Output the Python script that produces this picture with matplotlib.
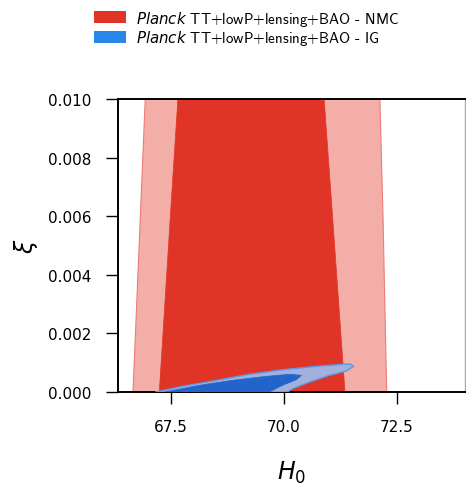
import numpy as np
import matplotlib
matplotlib.use('Agg')
import matplotlib.pyplot as plt
from matplotlib.patches import Patch

plt.rcParams['font.family'] = ['DejaVu Sans']
plt.rcParams['mathtext.fontset'] = 'dejavusans'

# --- datos ---
# NMC: bandas 68% / 95% (bordes izquierdo y derecho en funcion de xi)
xi_banda = [0.0, 0.0059, 0.0100, 0.0110]
nmc95_izq = [66.66, 66.82, 66.93, 66.95]
nmc95_der = [72.26, 72.18, 72.11, 72.09]
nmc68_izq = [67.24, 67.48, 67.65, 67.68]
nmc68_der = [71.34, 71.07, 70.88, 70.85]

# IG: contornos (poligonos) 95% y 68%
ig95_h0 = [67.17, 67.77, 68.52, 69.24, 69.97, 70.72, 71.29, 71.47, 71.54,
           71.38, 71.01, 70.57, 70.19, 70.08]
ig95_xi = [0.0, 0.000195, 0.000399, 0.000604, 0.000761, 0.000877, 0.000945, 0.000956, 0.000877,
           0.000717, 0.000570, 0.000341, 0.000113, 0.0]
ig68_h0 = [67.37, 68.14, 68.87, 69.62, 70.13, 70.39, 70.28, 69.97, 69.68]
ig68_xi = [0.0, 0.000229, 0.000399, 0.000536, 0.000604, 0.000570, 0.000420, 0.000229, 0.0]

ticks_x = [67.5, 70.0, 72.5]
ticks_y = [0.000, 0.002, 0.004, 0.006, 0.008, 0.010]

rojo = '#e03526'
rojo_claro = '#f3aea8'
borde_rojo = '#ec7d74'
azul = '#2264cc'
azul_claro = '#a2b0dc'
borde_azul = '#5f98e8'

fig = plt.figure(figsize=(4.66, 4.89), dpi=100)
ax = fig.add_axes([0.2532, 0.1963, 0.7447, 0.5992])

# bandas NMC
ax.fill_betweenx(xi_banda, nmc95_izq, nmc95_der, facecolor=rojo_claro,
                 edgecolor=borde_rojo, linewidth=0.8, zorder=1)
ax.fill_betweenx(xi_banda, nmc68_izq, nmc68_der, facecolor=rojo,
                 edgecolor=rojo, linewidth=0.5, zorder=2)

# contornos IG
ax.fill(ig95_h0, ig95_xi, facecolor=azul_claro, edgecolor=borde_azul, linewidth=1.0,
        joinstyle='round', zorder=3)
ax.fill(ig68_h0, ig68_xi, facecolor=azul, edgecolor=azul, linewidth=0.5,
        joinstyle='round', zorder=4)

ax.set_xlim(66.34, 74.0)
ax.set_ylim(0.0, 0.010)
ax.set_xticks(ticks_x)
ax.set_xticklabels([f'{t:.1f}' for t in ticks_x])
ax.set_yticks(ticks_y)
ax.set_yticklabels([f'{t:.3f}' for t in ticks_y])

for lado in ['left', 'top', 'bottom']:
    ax.spines[lado].set_linewidth(1.4)
    ax.spines[lado].set_color('black')
ax.spines['right'].set_color('#aaaaaa')
ax.spines['right'].set_linewidth(1.0)
ax.tick_params(direction='out', length=8.6, width=1.0, labelsize=11, pad=10.5)

ax.set_xlabel(r'$H_0$', fontsize=17, labelpad=18)
ax.set_ylabel(r'$\xi$', fontsize=17, labelpad=6)

handles = [Patch(facecolor=rojo, edgecolor='none'),
           Patch(facecolor='#2a85ea', edgecolor='none')]
labels = [r'$Planck$ TT+lowP+lensing+BAO - NMC',
          r'$Planck$ TT+lowP+lensing+BAO - IG']
fig.legend(handles, labels, loc='upper center', bbox_to_anchor=(0.529, 1.008),
           frameon=False, prop={'family': 'cmss10', 'size': 10.8},
           handlelength=2.15, handleheight=0.87,
           labelspacing=0.05, handletextpad=0.67)

fig.savefig('out.png', dpi=100)
